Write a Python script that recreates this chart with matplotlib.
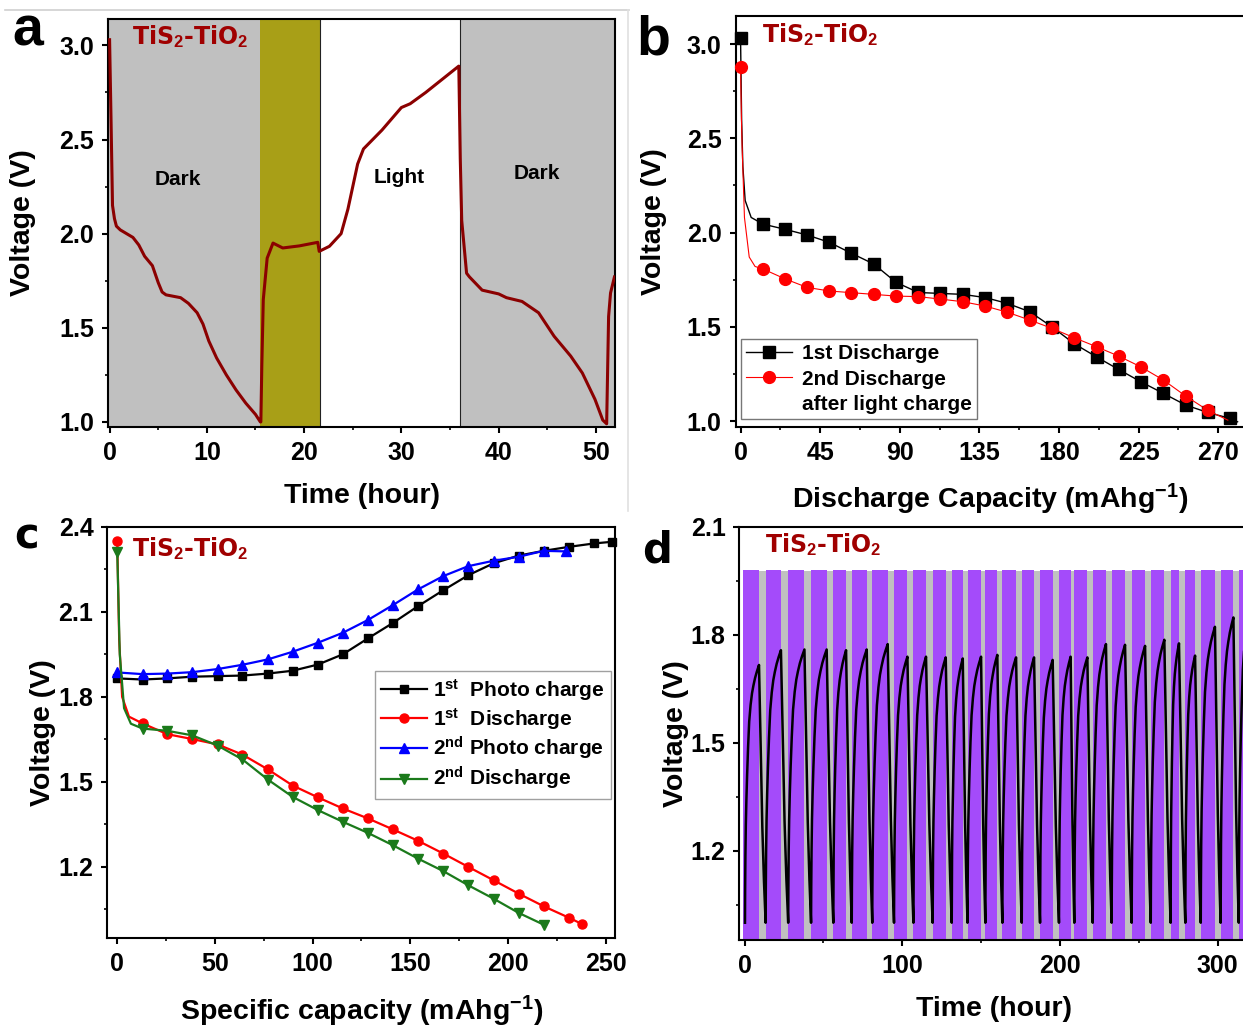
import matplotlib

matplotlib.use("Agg")
import matplotlib.pyplot as plt
import numpy as np
from matplotlib.lines import Line2D
from matplotlib.ticker import AutoMinorLocator, FormatStrFormatter, MultipleLocator

plt.rcParams["font.family"] = ["Liberation Sans", "DejaVu Sans"]
plt.rcParams["font.weight"] = "bold"
plt.rcParams["axes.labelweight"] = "bold"
plt.rcParams["mathtext.fontset"] = "custom"
plt.rcParams["mathtext.rm"] = "Liberation Sans:bold"
plt.rcParams["mathtext.bf"] = "Liberation Sans:bold"
plt.rcParams["mathtext.it"] = "Liberation Sans:bold:italic"
plt.rcParams["axes.linewidth"] = 1.5

DARK_RED = "#A00000"
TITLE = r"TiS$_{\mathbf{2}}$-TiO$_{\mathbf{2}}$"

# ---- panel a: voltage vs time under dark / light ----
A_T = [0.0, 0.15, 0.3, 0.5, 0.7, 1.1, 2.4, 3.0, 3.6, 4.4, 5.0, 5.4, 5.8, 7.3, 8.1,
       9.0, 9.6, 10.2, 11.0, 12.0, 13.0, 14.0, 15.0, 15.5,
       15.55, 15.65, 15.8, 16.2, 16.8, 17.8, 19.5, 21.4, 21.55, 22.6, 23.8, 24.5,
       25.0, 25.5, 26.1, 28.0, 30.0, 30.9, 32.5, 34.2, 35.9,
       36.05, 36.2, 36.7, 37.0, 38.3, 40.0, 40.8, 42.4, 44.1, 45.7, 47.4, 48.6,
       49.9, 50.7, 51.1, 51.3, 51.5, 51.9]
A_V = [3.03, 2.6, 2.15, 2.08, 2.04, 2.02, 1.98, 1.94, 1.88, 1.83, 1.74, 1.69, 1.675, 1.66, 1.63,
       1.58, 1.52, 1.43, 1.34, 1.25, 1.17, 1.10, 1.04, 1.0,
       1.0, 1.3, 1.65, 1.87, 1.95, 1.924, 1.935, 1.954, 1.906, 1.933, 2.0, 2.13,
       2.25, 2.37, 2.45, 2.55, 2.67, 2.69, 2.75, 2.82, 2.89,
       2.4, 2.07, 1.79, 1.77, 1.70, 1.68, 1.66, 1.64, 1.58, 1.455, 1.35, 1.26,
       1.12, 1.01, 0.99, 1.56, 1.685, 1.77]
A_SPAN_EDGES = [-0.2, 15.5, 21.6, 36.0, 52.0]
A_SPAN_COLORS = ["#C0C0C0", "#A89F17", "white", "#C0C0C0"]
A_BOUNDARIES = [21.6, 36.0]
A_REGION_TEXT = [(7.0, 2.29, "Dark"), (29.8, 2.30, "Light"), (43.9, 2.32, "Dark")]

# ---- panel b: discharge curves ----
B1_X = [0, 0.6, 1.3, 2.6, 6.0, 12.6, 25.2, 37.6, 50.2, 62.7, 75.3, 87.9, 100.5, 113, 125.7,
        138.3, 150.9, 163.5, 176, 188.7, 201.3, 213.7, 226.2, 239, 251.6, 264, 276.8, 281]
B1_V = [3.03, 2.6, 2.35, 2.17, 2.08, 2.045, 2.017, 1.987, 1.948, 1.89, 1.833, 1.736, 1.682, 1.677,
        1.672, 1.655, 1.624, 1.58, 1.50, 1.41, 1.34, 1.274, 1.209, 1.147, 1.085, 1.046, 1.014, 0.996]
B1_MARK = [0] + list(range(5, 27))
B2_X = [0, 0.5, 0.9, 2.2, 4.9, 8.2, 12.6, 25.2, 37.6, 50.2, 62.7, 75.3, 87.9, 100.5, 113, 125.7,
        138.3, 150.9, 163.5, 176, 188.7, 201.3, 213.7, 226.2, 239, 251.6, 264, 270, 275.5]
B2_V = [2.88, 2.6, 2.45, 2.08, 1.87, 1.82, 1.807, 1.754, 1.709, 1.69, 1.681, 1.672, 1.663, 1.66,
        1.647, 1.633, 1.61, 1.577, 1.536, 1.492, 1.442, 1.394, 1.345, 1.288, 1.218, 1.133, 1.058,
        1.03, 1.005]
B2_MARK = [0] + list(range(6, 27))

# ---- panel c: photo charge / discharge ----
C_X = [0, 13, 25.7, 38.4, 51.4, 64.1, 77.1, 89.8, 102.8, 115.5, 128.3, 141.2, 154, 166.9,
       179.7, 192.6, 205.4, 218.3, 231.1, 244, 253.3]
C_PC1 = [1.865, 1.861, 1.865, 1.871, 1.873, 1.875, 1.882, 1.892, 1.914, 1.95, 2.006, 2.061,
         2.12, 2.176, 2.229, 2.271, 2.298, 2.315, 2.329, 2.341, 2.347]
C_PC2_X = C_X[:18] + [229.9]
C_PC2 = [1.886, 1.88, 1.882, 1.887, 1.898, 1.913, 1.932, 1.959, 1.991, 2.026, 2.071, 2.124,
         2.179, 2.226, 2.261, 2.28, 2.294, 2.315, 2.313]
C_D1_X = [0, 1.0, 2.5, 6.0] + C_X[1:19] + [238]
C_D1 = [2.349, 2.0, 1.8, 1.73, 1.706, 1.668, 1.651, 1.632, 1.596, 1.544, 1.487, 1.445, 1.406,
        1.371, 1.332, 1.292, 1.247, 1.2, 1.153, 1.106, 1.061, 1.021, 0.998]
C_D1_MARK = [0] + list(range(4, 23))
C_D2_X = [0, 1.3, 3.5, 7.0] + C_X[1:18]
C_D2 = [2.312, 1.95, 1.76, 1.705, 1.688, 1.68, 1.664, 1.628, 1.579, 1.508, 1.447, 1.4, 1.359,
        1.32, 1.276, 1.229, 1.185, 1.135, 1.088, 1.038, 0.996]
C_D2_MARK = [0] + list(range(4, 21))

# ---- panel d: long-term light / dark cycling ----
D_LIGHT_ON = [-0.8, 13.4, 27.7, 42.2, 56.3, 68.0, 81.0, 94.8, 107.1, 119.3, 131.4, 141.4, 152.7,
              163.5, 175.8, 187.4, 199.4, 209.1, 220.8, 232.8, 245.5, 257.6, 270.2, 279.5,
              289.3, 301.9, 313.4]
D_LIGHT_OFF = [9.2, 23.1, 38.0, 52.1, 64.4, 77.5, 90.8, 103.3, 115.1, 127.6, 138.4, 150.0,
               160.3, 172.2, 183.6, 195.4, 206.8, 217.4, 229.2, 241.3, 254.0, 266.2, 275.5,
               285.7, 298.3, 310.0, 322.0]
D_PEAK_V = [1.716, 1.757, 1.759, 1.759, 1.757, 1.759, 1.774, 1.739, 1.739, 1.737, 1.734, 1.739,
            1.744, 1.737, 1.737, 1.73, 1.739, 1.737, 1.774, 1.772, 1.769, 1.786, 1.776, 1.742,
            1.822, 1.848, 1.9]
D_MIN_V = 1.0
D_FIRST_T = 0.3
D_BAR_TOP = 1.98
# shape of one cycle (fraction of time, fraction of swing)
D_RISE_U = [0, 0.01, 0.03, 0.06, 0.1, 0.15, 0.22, 0.3, 0.4, 0.5, 0.6, 0.72, 0.85, 1.0]
D_RISE_F = [0, 0.12, 0.26, 0.38, 0.475, 0.57, 0.68, 0.78, 0.845, 0.89, 0.92, 0.95, 0.975, 1.0]
D_DROP_U = [0, 0.25, 0.5, 0.75, 1.0]
D_DROP_F = [1, 0.68, 0.37, 0.16, 0]


def style_axes(ax, xmajor, ymajor, yfmt="%.1f"):
    ax.xaxis.set_major_locator(MultipleLocator(xmajor))
    ax.yaxis.set_major_locator(MultipleLocator(ymajor))
    ax.xaxis.set_minor_locator(AutoMinorLocator(2))
    ax.yaxis.set_minor_locator(AutoMinorLocator(2))
    ax.yaxis.set_major_formatter(FormatStrFormatter(yfmt))
    ax.tick_params(which="major", direction="out", length=4, width=1.5, labelsize=18, pad=6)
    ax.tick_params(which="minor", direction="out", length=2.5, width=1.2)
    ax.tick_params(top=False, right=False)
    for lab in ax.get_xticklabels() + ax.get_yticklabels():
        lab.set_fontweight("bold")


def tag(ax, x, y):
    ax.text(x, y, TITLE, transform=ax.transAxes, color=DARK_RED, fontsize=17,
            fontweight="bold", family="DejaVu Sans", ha="left", va="center")


def bold_legend(leg):
    leg.get_frame().set_linewidth(1.0)
    for t in leg.get_texts():
        t.set_fontweight("bold")


fig = plt.figure(figsize=(12.43, 10.28), dpi=100)

# faint frame lines left over from the source layout
fig.add_artist(Line2D([0.004, 0.506], [0.990, 0.990], color="#D0D0D0", lw=1.2))
fig.add_artist(Line2D([0.505, 0.505], [0.990, 0.503], color="#E0E0E0", lw=1.2))

# panel a
ax = fig.add_axes([0.0866, 0.5846, 0.4085, 0.3969])
for i, col in enumerate(A_SPAN_COLORS):
    ax.axvspan(A_SPAN_EDGES[i], A_SPAN_EDGES[i + 1], color=col, lw=0, zorder=0)
for xb in A_BOUNDARIES:
    ax.axvline(xb, color="#222222", lw=0.8, zorder=1)
ax.plot(A_T, A_V, color="#8B0000", lw=2.2, zorder=3)
for x, y, s in A_REGION_TEXT:
    ax.text(x, y, s, ha="center", va="center", fontsize=15, fontweight="bold")
ax.set_xlim(-0.2, 52.0)
ax.set_ylim(0.973, 3.14)
style_axes(ax, 10, 0.5)
ax.set_xlabel("Time (hour)", fontsize=20.5)
ax.set_ylabel("Voltage (V)", fontsize=20.5)
ax.xaxis.set_label_coords(0.5, -0.138)
ax.yaxis.set_label_coords(-0.141, 0.5)
tag(ax, 0.048, 0.956)

# panel b
ax = fig.add_axes([0.5918, 0.5849, 0.4138, 0.3998])
ax.plot(B1_X, B1_V, color="black", lw=1.0, marker="s", ms=8, markevery=B1_MARK,
        label="1st Discharge", clip_on=False, zorder=3)
ax.plot(B2_X, B2_V, color="red", lw=0.8, marker="o", ms=8.5, markevery=B2_MARK,
        label="2nd Discharge", clip_on=False, zorder=4)
ax.plot([], [], color="none", label="after light charge")
ax.set_xlim(-2.8, 288)
ax.set_ylim(0.97, 3.15)
style_axes(ax, 45, 0.5)
ax.set_xlabel(r"Discharge Capacity (mAhg$^{\mathbf{-1}}$)", fontsize=20.5)
ax.set_ylabel("Voltage (V)", fontsize=20.5)
ax.xaxis.set_label_coords(0.495, -0.134)
ax.yaxis.set_label_coords(-0.133, 0.5)
leg = ax.legend(loc="lower left", bbox_to_anchor=(0.0097, 0.0187), borderaxespad=0,
                fontsize=15, fancybox=False, edgecolor="#555555", handlelength=2.2,
                labelspacing=0.3, borderpad=0.25, handletextpad=0.5)
bold_legend(leg)
tag(ax, 0.051, 0.953)

# panel c
ax = fig.add_axes([0.0863, 0.0878, 0.4088, 0.3998])
ax.plot(C_X, C_PC1, color="black", lw=1.6, marker="s", ms=6,
        label=r"1$^{\mathbf{st}}$  Photo charge", clip_on=False, zorder=3)
ax.plot(C_D1_X, C_D1, color="red", lw=1.6, marker="o", ms=6.5, markevery=C_D1_MARK,
        label=r"1$^{\mathbf{st}}$  Discharge", clip_on=False, zorder=3)
ax.plot(C_PC2_X, C_PC2, color="blue", lw=1.6, marker="^", ms=7,
        label=r"2$^{\mathbf{nd}}$ Photo charge", clip_on=False, zorder=3)
ax.plot(C_D2_X, C_D2, color="#1B7A1B", lw=1.6, marker="v", ms=7, markevery=C_D2_MARK,
        label=r"2$^{\mathbf{nd}}$ Discharge", clip_on=False, zorder=3)
ax.set_xlim(-5.1, 255)
ax.set_ylim(0.95, 2.4)
style_axes(ax, 50, 0.3)
ax.set_xlabel(r"Specific capacity (mAhg$^{\mathbf{-1}}$)", fontsize=20.5)
ax.set_ylabel("Voltage (V)", fontsize=20.5)
ax.xaxis.set_label_coords(0.5, -0.136)
ax.yaxis.set_label_coords(-0.1, 0.5)
leg = ax.legend(loc="upper right", bbox_to_anchor=(0.991, 0.65), borderaxespad=0,
                fontsize=15, fancybox=False, edgecolor="#888888", handlelength=2.2,
                labelspacing=0.15, borderpad=0.3, handletextpad=0.3)
bold_legend(leg)
tag(ax, 0.049, 0.948)

# panel d
ax = fig.add_axes([0.5949, 0.0856, 0.4107, 0.402])
ybot = 0.9
light_w = np.array(D_LIGHT_OFF) - np.array(D_LIGHT_ON)
ax.bar(D_LIGHT_ON, D_BAR_TOP - ybot, width=light_w, bottom=ybot, align="edge",
       color="#A44BFA", lw=0, zorder=1)
dark_on = np.array(D_LIGHT_OFF[:-1])
dark_w = np.array(D_LIGHT_ON[1:]) - dark_on
ax.bar(dark_on, D_BAR_TOP - 0.002 - ybot, width=dark_w, bottom=ybot, align="edge",
       color="#C0C0C0", lw=0, zorder=1)

starts = [D_FIRST_T] + D_LIGHT_ON[1:]
t_pts, v_pts = [], []
for i, peak in enumerate(D_PEAK_V):
    t0, tp = starts[i], D_LIGHT_OFF[i]
    t_pts += [t0 + u * (tp - t0) for u in D_RISE_U]
    v_pts += [D_MIN_V + f * (peak - D_MIN_V) for f in D_RISE_F]
    if i + 1 < len(starts):
        t1 = starts[i + 1]
        t_pts += [tp + u * (t1 - tp) for u in D_DROP_U[1:]]
        v_pts += [D_MIN_V + f * (peak - D_MIN_V) for f in D_DROP_F[1:]]
ax.plot(t_pts, v_pts, color="black", lw=1.8, zorder=3)
ax.set_xlim(-3.2, 320.5)
ax.set_ylim(0.952, 2.1)
style_axes(ax, 100, 0.3)
ax.set_xlabel("Time (hour)", fontsize=20.5)
ax.set_ylabel("Voltage (V)", fontsize=20.5)
ax.xaxis.set_label_coords(0.4985, -0.1355)
ax.yaxis.set_label_coords(-0.099, 0.5)
tag(ax, 0.05, 0.958)

# panel letters
fig.text(0.0225, 0.956, "a", fontsize=40, fontweight="bold", ha="center", va="baseline")
fig.text(0.5253, 0.9465, "b", fontsize=40, fontweight="bold", ha="center", va="baseline")
fig.text(0.0217, 0.466, "c", fontsize=30, fontweight="bold", family="DejaVu Sans",
         ha="center", va="baseline")
fig.text(0.529, 0.4533, "d", fontsize=30, fontweight="bold", family="DejaVu Sans",
         ha="center", va="baseline")

fig.savefig("out.png", dpi=100)
